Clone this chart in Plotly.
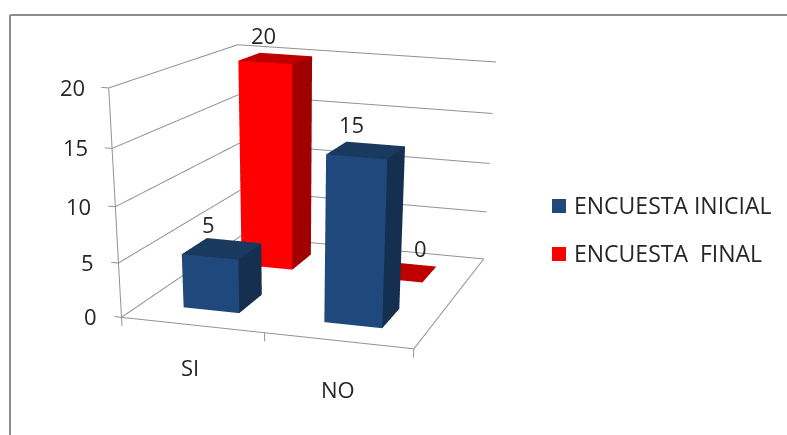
import plotly.graph_objects as go

# Chart data
CATEGORIES = ["SI", "NO"]
SERIES = ["ENCUESTA INICIAL", "ENCUESTA  FINAL"]
INICIAL = [5, 15]
FINAL = [20, 0]
Z_TICKS = [0, 5, 10, 15, 20]

# Colours: front, side and top faces of the columns
BLUE = {"front": "#1F497D", "side": "#152F50", "top": "#19395F"}
RED = {"front": "#FF0000", "side": "#A00000", "top": "#C00000"}
GRID = "#929292"
INK = "#262626"
FONT = "Open Sans"
TEXT_SIZE = 22

FIG_W, FIG_H = 787, 1200   # the scene is tall so that its lens stays long
BAR = 0.4                  # column width in category units
X_MAX, Y_MAX, Z_MAX = 2, 2, 20


def box(xc, yc, h):
    """Vertices and triangles of a column standing on the floor."""
    x0, x1 = xc - BAR / 2, xc + BAR / 2
    y0, y1 = yc - BAR / 2, yc + BAR / 2
    xs = [x0, x1, x1, x0, x0, x1, x1, x0]
    ys = [y0, y0, y1, y1, y0, y0, y1, y1]
    zs = [0, 0, 0, 0, h, h, h, h]
    faces = [
        ("front", (0, 1, 5)), ("front", (0, 5, 4)),
        ("side", (1, 2, 6)), ("side", (1, 6, 5)),
        ("top", (4, 5, 6)), ("top", (4, 6, 7)),
        ("side", (3, 0, 4)), ("side", (3, 4, 7)),
        ("side", (2, 3, 7)), ("side", (2, 7, 6)),
    ]
    return xs, ys, zs, faces


def column_trace(values, yc, palette, name):
    X, Y, Z, I, J, K, C = [], [], [], [], [], [], []
    for idx, v in enumerate(values):
        xs, ys, zs, faces = box(idx + 0.5, yc, v)
        base = len(X)
        X += xs
        Y += ys
        Z += zs
        for tone, (a, b, c) in faces:
            I.append(base + a)
            J.append(base + b)
            K.append(base + c)
            C.append(palette[tone])
    return go.Mesh3d(
        x=X, y=Y, z=Z, i=I, j=J, k=K, facecolor=C, flatshading=True, name=name,
        lighting=dict(ambient=1, diffuse=0, specular=0, roughness=1, fresnel=0),
        hoverinfo="skip", showscale=False,
    )


def segments(pairs):
    xs, ys, zs = [], [], []
    for (a, b) in pairs:
        xs += [a[0], b[0], None]
        ys += [a[1], b[1], None]
        zs += [a[2], b[2], None]
    return xs, ys, zs


# Frame: gridlines on both walls, floor edges, axis and tick marks
pairs = []
for z in Z_TICKS:
    pairs.append(((0, 0, z), (0, Y_MAX, z)))
    pairs.append(((0, Y_MAX, z), (X_MAX, Y_MAX, z)))
    pairs.append(((-0.05, 0, z), (0, 0, z)))
pairs.append(((0, 0, 0), (0, 0, Z_MAX)))
pairs.append(((0, 0, 0), (X_MAX, 0, 0)))
pairs.append(((X_MAX, 0, 0), (X_MAX, Y_MAX, 0)))
for c in range(len(CATEGORIES) + 1):
    pairs.append(((c, 0, 0), (c, 0, -0.8)))
lx, ly, lz = segments(pairs)

fig = go.Figure()
fig.add_trace(go.Scatter3d(x=lx, y=ly, z=lz, mode="lines",
                           line=dict(color=GRID, width=2),
                           hoverinfo="skip", showlegend=False))
fig.add_trace(column_trace(INICIAL, 0.5, BLUE, SERIES[0]))
fig.add_trace(column_trace(FINAL, 1.5, RED, SERIES[1]))

# Text anchored in the scene: axis numbers, category names and value labels
text_font = dict(family=FONT, size=TEXT_SIZE, color=INK)
notes = []
for z in Z_TICKS:
    notes.append(dict(x=0, y=0, z=z, text=str(z), showarrow=False, xanchor="right",
                      yanchor="middle", xshift=-22, yshift=1, font=text_font))
CATEGORY_SHIFT = [(-2, -42), (0, -48)]
for i, name in enumerate(CATEGORIES):
    dx, dy = CATEGORY_SHIFT[i]
    notes.append(dict(x=i + 0.5, y=0, z=0, text=name, showarrow=False, xanchor="center",
                      yanchor="middle", xshift=dx, yshift=dy, font=text_font))
LABEL_SHIFT = {(0, 0): (-14, 25), (0, 1): (-12, 23), (1, 0): (-15, 26), (1, 1): (17, 24)}
for s, vals in enumerate([INICIAL, FINAL]):
    for i, v in enumerate(vals):
        dx, dy = LABEL_SHIFT[(i, s)]
        notes.append(dict(x=i + 0.5, y=s + 0.5, z=v, text=str(v), showarrow=False,
                          xanchor="center", yanchor="middle", xshift=dx, yshift=dy,
                          font=text_font))

ASPECT_X, ASPECT_Y = 1.3747, 1.6487


def py(pix):
    return 1 - pix / FIG_H


def px(pix):
    return pix / FIG_W


# Outer border, legend swatches and legend text on the page
shapes = [
    dict(type="line", xref="paper", yref="paper", x0=px(10), x1=px(10), y0=py(15), y1=py(435),
         line=dict(color="#8C8C8C", width=2)),
    dict(type="line", xref="paper", yref="paper", x0=px(10), x1=px(787), y0=py(15), y1=py(15),
         line=dict(color="#8C8C8C", width=2)),
]
annotations = []
for name, col, yc in zip(SERIES, [BLUE["front"], RED["front"]], [206, 254]):
    shapes.append(dict(type="rect", xref="paper", yref="paper",
                       x0=px(552), x1=px(566), y0=py(yc - 7), y1=py(yc + 7),
                       fillcolor=col, line=dict(color=col, width=0)))
    annotations.append(dict(xref="paper", yref="paper", x=px(572), y=py(yc - 1), showarrow=False,
                            xanchor="left", yanchor="middle", text=name.replace("  ", "\u00a0\u00a0"),
                            font=dict(family=FONT, size=23, color=INK)))

hidden = dict(visible=False, showgrid=False, zeroline=False, showline=False,
              showticklabels=False, showbackground=False, showspikes=False)
fig.update_layout(
    width=FIG_W, height=FIG_H, margin=dict(l=0, r=0, t=0, b=0),
    paper_bgcolor="white", showlegend=False, shapes=shapes, annotations=annotations,
    scene=dict(
        domain=dict(x=[0, 1], y=[0, 1]),
        xaxis=dict(range=[-1, 3], **hidden),
        yaxis=dict(range=[-1, 3], **hidden),
        zaxis=dict(range=[-10, 30], **hidden),
        aspectmode="manual",
        aspectratio=dict(x=2 * ASPECT_X, y=2 * ASPECT_Y, z=2),
        camera=dict(eye=dict(x=2.0116, y=-6.8247, z=1.4623),
                    center=dict(x=0.5741, y=-0.5484, z=-1.8997),
                    up=dict(x=-0.1391, y=0.4426, z=0.8858)),
        annotations=notes,
    ),
)
fig.write_html("out.html", config={"displayModeBar": False})
